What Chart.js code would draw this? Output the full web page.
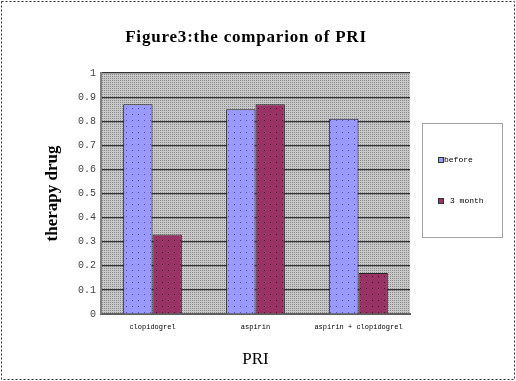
<!DOCTYPE html>
<html>
<head>
<meta charset="utf-8">
<script src="https://cdn.jsdelivr.net/npm/chart.js@4/dist/chart.umd.min.js"></script>
<style>
  html, body { margin: 0; padding: 0; background: #fff; }
  #wrap { width: 516px; height: 381px; }
</style>
</head>
<body>
<div id="wrap"><canvas id="myChart" width="516" height="381"></canvas></div>
<script>
const categories = ["clopidogrel", "aspirin", "aspirin + clopidogrel"];
const beforeValues = [0.87, 0.85, 0.81];
const monthValues = [0.33, 0.87, 0.17];
const seriesNames = ["before", "3 month"];
const chartTitle = "Figure3:the comparion of PRI";

// small dotted fills like the old office chart
const tmp = document.createElement("canvas").getContext("2d");
function patternOn(base, dot, step) {
  const c = document.createElement("canvas");
  c.width = step;
  c.height = step;
  const g = c.getContext("2d");
  g.fillStyle = base;
  g.fillRect(0, 0, step, step);
  g.fillStyle = dot;
  g.fillRect(0, 0, 1, 1);
  return tmp.createPattern(c, "repeat");
}
const plotFill = patternOn("#c8c8c8", "#8a8a8a", 2);
const beforeFill = patternOn("#9999ff", "#4c4cc0", 6);
const monthFill = patternOn("#993366", "#4a1030", 6);

const framePlugin = {
  id: "frame",
  beforeDraw(chart) {
    const { ctx, chartArea: a } = chart;
    ctx.save();
    ctx.fillStyle = plotFill;
    ctx.fillRect(a.left, a.top, a.right - a.left, a.bottom - a.top);
    ctx.restore();
  },
  afterDraw(chart) {
    const ctx = chart.ctx;
    ctx.save();
    // title
    ctx.fillStyle = "#000";
    ctx.font = "bold 17px 'Liberation Serif'";
    ctx.letterSpacing = "0.8px";
    ctx.textAlign = "center";
    ctx.textBaseline = "middle";
    ctx.fillText(chartTitle, 246, 38);
    ctx.letterSpacing = "0px";

    // legend box
    ctx.fillStyle = "#fff";
    ctx.fillRect(422, 123, 81, 115);
    ctx.strokeStyle = "#444";
    ctx.lineWidth = 1;
    ctx.setLineDash([1, 1]);
    ctx.strokeRect(422.5, 123.5, 80, 114);
    ctx.setLineDash([]);
    const ys = [160, 201];
    const tx = [444, 450];
    chart.data.datasets.forEach((ds, i) => {
      ctx.fillStyle = ds.legendColor;
      ctx.fillRect(438, ys[i] - 3, 6, 6);
      ctx.strokeStyle = "#333";
      ctx.strokeRect(438.5, ys[i] - 2.5, 5, 5);
      ctx.fillStyle = "#000";
      ctx.font = "8px 'Liberation Mono'";
      ctx.textAlign = "left";
      ctx.fillText(ds.label, tx[i], ys[i]);
    });

    // outer dashed border
    ctx.strokeStyle = "#333";
    ctx.setLineDash([2, 2]);
    ctx.strokeRect(1.5, 1.5, 513, 378);
    ctx.restore();
  }
};

const config = {
  type: "bar",
  data: {
    labels: categories,
    datasets: [
      {
        label: seriesNames[0],
        data: beforeValues,
        backgroundColor: beforeFill,
        legendColor: "#9999ff",
        borderColor: "#222",
        borderWidth: 1,
        borderSkipped: "bottom"
      },
      {
        label: seriesNames[1],
        data: monthValues,
        backgroundColor: monthFill,
        legendColor: "#993366",
        borderColor: "#222",
        borderWidth: 1,
        borderSkipped: "bottom"
      }
    ]
  },
  options: {
    responsive: false,
    animation: false,
    layout: { padding: { left: 0, right: 106, top: 73, bottom: 0 } },
    plugins: {
      legend: { display: false },
      title: { display: false },
      tooltip: { enabled: false }
    },
    datasets: { bar: { categoryPercentage: 0.57, barPercentage: 1 } },
    scales: {
      x: {
        grid: { display: false },
        border: { display: true, color: "#606060", width: 2 },
        ticks: {
          color: "#000",
          font: { family: "Liberation Mono", size: 7 },
          padding: 1,
          maxRotation: 0
        },
        title: {
          display: true,
          text: "PRI",
          color: "#000",
          font: { family: "Liberation Serif", size: 17 },
          padding: { top: 0, bottom: 11 }
        },
        afterFit(scale) { scale.height = 67; }
      },
      y: {
        min: 0,
        max: 1,
        ticks: {
          stepSize: 0.1,
          color: "#444",
          font: { family: "Liberation Mono", size: 10 },
          padding: 5,
          callback: (v) => (v === 0 || v === 1 ? String(v) : v.toFixed(1))
        },
        grid: { color: "#333", lineWidth: 1.2, drawTicks: false },
        border: { display: true, color: "#808080", width: 2 },
        title: {
          display: true,
          text: "therapy drug",
          color: "#000",
          font: { family: "Liberation Serif", size: 17, weight: "bold" },
          padding: { top: 42, bottom: 0 }
        },
        afterFit(scale) { scale.width = 101; }
      }
    }
  },
  plugins: [framePlugin]
};

const myChart = new Chart(document.getElementById("myChart"), config);
</script>
</body>
</html>
